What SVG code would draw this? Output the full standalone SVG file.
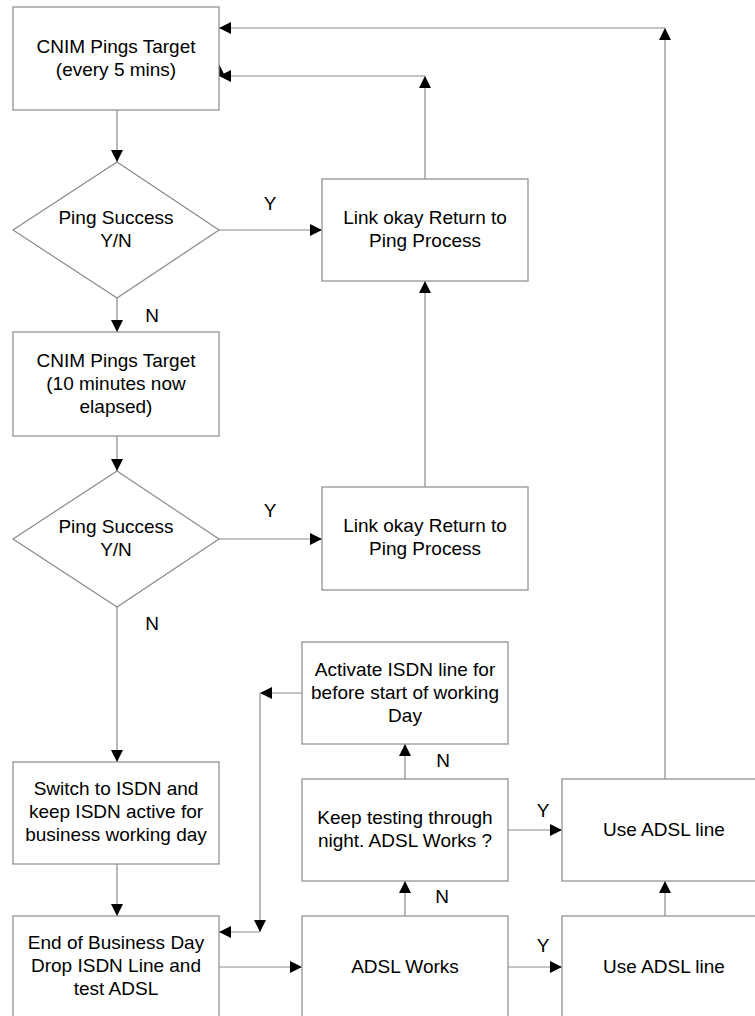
<svg xmlns="http://www.w3.org/2000/svg" width="755" height="1016" viewBox="0 0 755 1016">
<style>
.box{fill:#fff;stroke:#8a8a8a;stroke-width:1.2}
.t{font-family:"Liberation Sans",Arial,sans-serif;font-size:19px;fill:#000;text-anchor:middle}
.c{fill:none;stroke:#8a8a8a;stroke-width:1.2}
</style>
<defs>
<marker id="arr" markerUnits="userSpaceOnUse" markerWidth="12" markerHeight="12" refX="12" refY="6" orient="auto" viewBox="0 0 12 12">
<path d="M0,0 L12,6 L0,12 z" fill="#000"/>
</marker>
</defs>
<rect width="755" height="1016" fill="#fff"/>
<g id="connectors">
<line class="c" x1="117" y1="110" x2="117" y2="162" marker-end="url(#arr)"/>
<line class="c" x1="219" y1="230" x2="322" y2="230" marker-end="url(#arr)"/>
<line class="c" x1="425" y1="179" x2="425" y2="76" marker-end="url(#arr)"/>
<line class="c" x1="425" y1="76" x2="219" y2="76" marker-end="url(#arr)"/>
<polygon points="219,64 225,76 213,76" fill="#000"/>
<line class="c" x1="117" y1="298" x2="117" y2="332" marker-end="url(#arr)"/>
<line class="c" x1="117" y1="436" x2="117" y2="471" marker-end="url(#arr)"/>
<line class="c" x1="219" y1="539" x2="322" y2="539" marker-end="url(#arr)"/>
<line class="c" x1="425" y1="487" x2="425" y2="281" marker-end="url(#arr)"/>
<line class="c" x1="117" y1="607" x2="117" y2="762" marker-end="url(#arr)"/>
<line class="c" x1="117" y1="864" x2="117" y2="916" marker-end="url(#arr)"/>
<line class="c" x1="219" y1="967" x2="302" y2="967" marker-end="url(#arr)"/>
<line class="c" x1="405" y1="916" x2="405" y2="881" marker-end="url(#arr)"/>
<line class="c" x1="405" y1="779" x2="405" y2="744" marker-end="url(#arr)"/>
<line class="c" x1="302" y1="693" x2="260" y2="693" marker-end="url(#arr)"/>
<line class="c" x1="260" y1="693" x2="260" y2="932" marker-end="url(#arr)"/>
<line class="c" x1="260" y1="932" x2="219" y2="932" marker-end="url(#arr)"/>
<line class="c" x1="508" y1="830" x2="562" y2="830" marker-end="url(#arr)"/>
<line class="c" x1="508" y1="967" x2="562" y2="967" marker-end="url(#arr)"/>
<line class="c" x1="665" y1="916" x2="665" y2="881" marker-end="url(#arr)"/>
<line class="c" x1="665" y1="779" x2="665" y2="28" marker-end="url(#arr)"/>
<line class="c" x1="665" y1="28" x2="219" y2="28" marker-end="url(#arr)"/>
<text class="t" x="270" y="210">Y</text>
<text class="t" x="152" y="322">N</text>
<text class="t" x="270" y="517">Y</text>
<text class="t" x="152" y="630">N</text>
<text class="t" x="443" y="767">N</text>
<text class="t" x="442" y="903">N</text>
<text class="t" x="543" y="817">Y</text>
<text class="t" x="543" y="952">Y</text>
</g>
<g id="ping1">
<rect class="box" x="13" y="7" width="206" height="103"/>
<text class="t" x="116" y="53">CNIM Pings Target</text>
<text class="t" x="116" y="76">(every 5 mins)</text>
</g>
<g id="dec1">
<polygon class="box" points="117,162 219,230 117,298 13,230"/>
<text class="t" x="116" y="224">Ping Success</text>
<text class="t" x="116" y="247">Y/N</text>
</g>
<g id="link1">
<rect class="box" x="322" y="179" width="206" height="102"/>
<text class="t" x="425" y="224">Link okay Return to</text>
<text class="t" x="425" y="247">Ping Process</text>
</g>
<g id="ping2">
<rect class="box" x="13" y="332" width="206" height="104"/>
<text class="t" x="116" y="367">CNIM Pings Target</text>
<text class="t" x="116" y="390">(10 minutes now</text>
<text class="t" x="116" y="413">elapsed)</text>
</g>
<g id="dec2">
<polygon class="box" points="117,471 219,539 117,607 13,539"/>
<text class="t" x="116" y="533">Ping Success</text>
<text class="t" x="116" y="556">Y/N</text>
</g>
<g id="link2">
<rect class="box" x="322" y="487" width="206" height="103"/>
<text class="t" x="425" y="532">Link okay Return to</text>
<text class="t" x="425" y="555">Ping Process</text>
</g>
<g id="switch">
<rect class="box" x="13" y="762" width="206" height="102"/>
<text class="t" x="116" y="795">Switch to ISDN and</text>
<text class="t" x="116" y="818">keep ISDN active for</text>
<text class="t" x="116" y="841">business working day</text>
</g>
<g id="endday">
<rect class="box" x="13" y="916" width="206" height="102"/>
<text class="t" x="116" y="949">End of Business Day</text>
<text class="t" x="116" y="972">Drop ISDN Line and</text>
<text class="t" x="116" y="995">test ADSL</text>
</g>
<g id="activate">
<rect class="box" x="302" y="642" width="206" height="102"/>
<text class="t" x="405" y="676">Activate ISDN line for</text>
<text class="t" x="405" y="699">before start of working</text>
<text class="t" x="405" y="722">Day</text>
</g>
<g id="keep">
<rect class="box" x="302" y="779" width="206" height="102"/>
<text class="t" x="405" y="824">Keep testing through</text>
<text class="t" x="405" y="847">night. ADSL Works ?</text>
</g>
<g id="adslworks">
<rect class="box" x="302" y="916" width="206" height="102"/>
<text class="t" x="405" y="973">ADSL Works</text>
</g>
<g id="use1">
<rect class="box" x="562" y="779" width="206" height="102"/>
<text class="t" x="664" y="836">Use ADSL line</text>
</g>
<g id="use2">
<rect class="box" x="562" y="916" width="206" height="102"/>
<text class="t" x="664" y="973">Use ADSL line</text>
</g>
</svg>
